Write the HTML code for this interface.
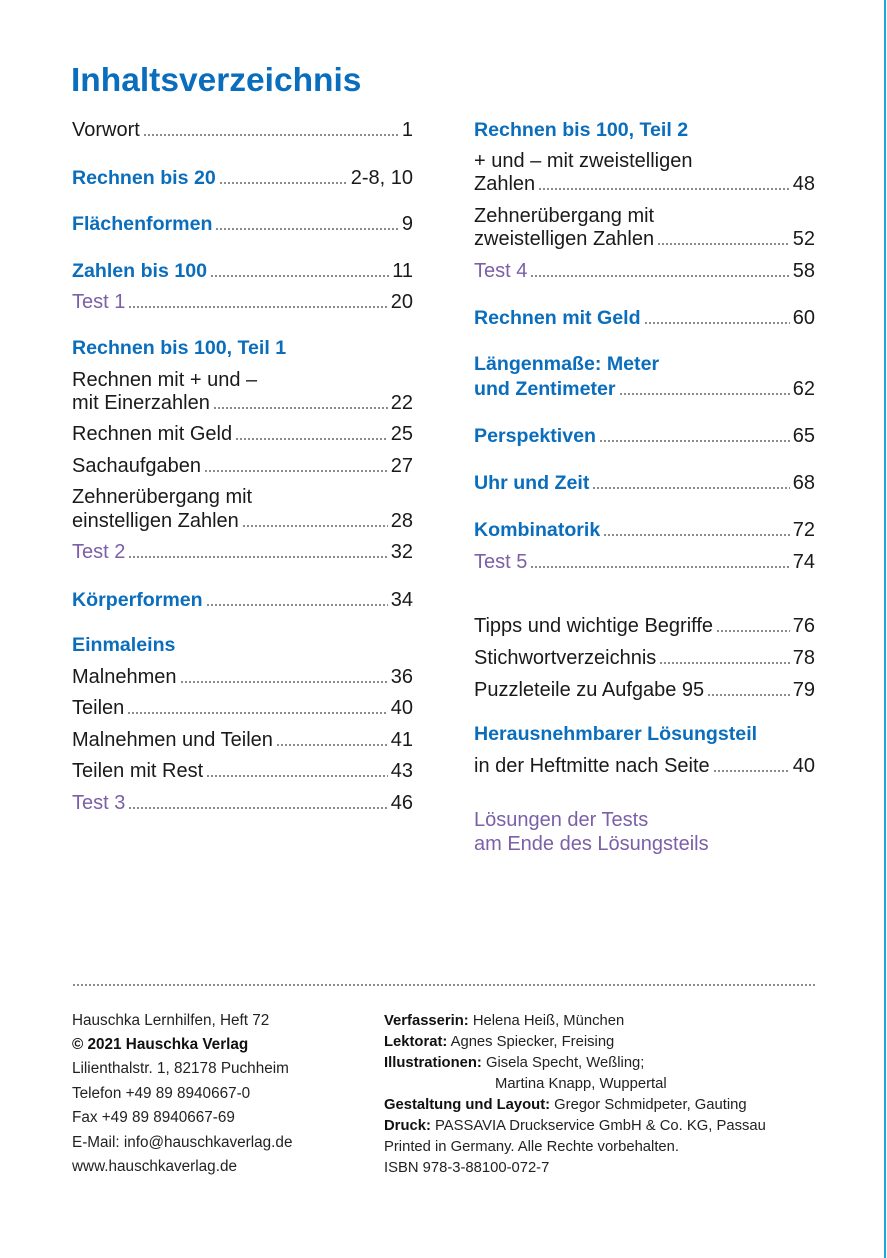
<!DOCTYPE html>
<html><head><meta charset="utf-8"><style>
body{margin:0;width:887px;height:1258px;background:#fff;position:relative;overflow:hidden;font-family:"Liberation Sans",sans-serif;color:#1a1a1a}
.r{position:absolute;display:flex;align-items:flex-end;height:26px;line-height:26px;font-size:20px;white-space:nowrap}
.L{left:72px;width:341px}.R{left:474px;width:341px}
.f{flex:1;margin:0 3px 7px 3px;height:2px;background:radial-gradient(circle,#666 0.8px,transparent 1px) 0 0/4px 2px repeat-x}
.b{color:#0a6ebd;font-weight:bold;font-size:19.6px}
.p{color:#7b5fa8}
.ft{position:absolute;font-size:15.3px;line-height:20px;white-space:nowrap;color:#222}
.fr{font-size:14.8px}
.ft b{color:#111}
</style></head><body>
<div style="position:absolute;right:1px;top:0;width:2px;height:1258px;background:#19a9d8"></div>
<div style="position:absolute;left:71px;top:61px;font-size:33.5px;font-weight:bold;color:#0a6ebd;line-height:40px">Inhaltsverzeichnis</div>

<div class="r L" style="top:117px"><span>Vorwort</span><span class="f"></span><span>1</span></div>
<div class="r L" style="top:165px"><span class="b">Rechnen bis 20</span><span class="f"></span><span>2-8, 10</span></div>
<div class="r L" style="top:211px"><span class="b">Flächenformen</span><span class="f"></span><span>9</span></div>
<div class="r L" style="top:258px"><span class="b">Zahlen bis 100</span><span class="f"></span><span>11</span></div>
<div class="r L" style="top:289px"><span class="p">Test 1</span><span class="f"></span><span>20</span></div>
<div class="r L" style="top:335px"><span class="b">Rechnen bis 100, Teil 1</span></div>
<div class="r L" style="top:367px"><span>Rechnen mit + und –</span></div>
<div class="r L" style="top:390px"><span>mit Einerzahlen</span><span class="f"></span><span>22</span></div>
<div class="r L" style="top:421px"><span>Rechnen mit Geld</span><span class="f"></span><span>25</span></div>
<div class="r L" style="top:453px"><span>Sachaufgaben</span><span class="f"></span><span>27</span></div>
<div class="r L" style="top:484px"><span>Zehnerübergang mit</span></div>
<div class="r L" style="top:508px"><span>einstelligen Zahlen</span><span class="f"></span><span>28</span></div>
<div class="r L" style="top:539px"><span class="p">Test 2</span><span class="f"></span><span>32</span></div>
<div class="r L" style="top:587px"><span class="b">Körperformen</span><span class="f"></span><span>34</span></div>
<div class="r L" style="top:632px"><span class="b">Einmaleins</span></div>
<div class="r L" style="top:664px"><span>Malnehmen</span><span class="f"></span><span>36</span></div>
<div class="r L" style="top:695px"><span>Teilen</span><span class="f"></span><span>40</span></div>
<div class="r L" style="top:727px"><span>Malnehmen und Teilen</span><span class="f"></span><span>41</span></div>
<div class="r L" style="top:758px"><span>Teilen mit Rest</span><span class="f"></span><span>43</span></div>
<div class="r L" style="top:790px"><span class="p">Test 3</span><span class="f"></span><span>46</span></div>

<div class="r R" style="top:117px"><span class="b">Rechnen bis 100, Teil 2</span></div>
<div class="r R" style="top:148px"><span>+ und – mit zweistelligen</span></div>
<div class="r R" style="top:171px"><span>Zahlen</span><span class="f"></span><span>48</span></div>
<div class="r R" style="top:203px"><span>Zehnerübergang mit</span></div>
<div class="r R" style="top:226px"><span>zweistelligen Zahlen</span><span class="f"></span><span>52</span></div>
<div class="r R" style="top:258px"><span class="p">Test 4</span><span class="f"></span><span>58</span></div>
<div class="r R" style="top:305px"><span class="b">Rechnen mit Geld</span><span class="f"></span><span>60</span></div>
<div class="r R" style="top:351px"><span class="b">Längenmaße: Meter</span></div>
<div class="r R" style="top:376px"><span class="b">und Zentimeter</span><span class="f"></span><span>62</span></div>
<div class="r R" style="top:423px"><span class="b">Perspektiven</span><span class="f"></span><span>65</span></div>
<div class="r R" style="top:470px"><span class="b">Uhr und Zeit</span><span class="f"></span><span>68</span></div>
<div class="r R" style="top:517px"><span class="b">Kombinatorik</span><span class="f"></span><span>72</span></div>
<div class="r R" style="top:549px"><span class="p">Test 5</span><span class="f"></span><span>74</span></div>
<div class="r R" style="top:613px"><span>Tipps und wichtige Begriffe</span><span class="f"></span><span>76</span></div>
<div class="r R" style="top:645px"><span>Stichwortverzeichnis</span><span class="f"></span><span>78</span></div>
<div class="r R" style="top:677px"><span>Puzzleteile zu Aufgabe 95</span><span class="f"></span><span>79</span></div>
<div class="r R" style="top:721px"><span class="b">Herausnehmbarer Lösungsteil</span></div>
<div class="r R" style="top:753px"><span>in der Heftmitte nach Seite</span><span class="f"></span><span>40</span></div>
<div class="r R p" style="top:807px"><span>Lösungen der Tests</span></div>
<div class="r R p" style="top:831px"><span>am Ende des Lösungsteils</span></div>

<div style="position:absolute;left:72px;top:984px;width:743px;height:2px;background:radial-gradient(circle,#666 0.8px,transparent 1px) 0 0/4px 2px repeat-x"></div>

<div class="ft" style="left:72px;top:1011px">Hauschka Lernhilfen, Heft 72</div>
<div class="ft" style="left:72px;top:1035px"><b>© 2021 Hauschka Verlag</b></div>
<div class="ft" style="left:72px;top:1059px">Lilienthalstr. 1, 82178 Puchheim</div>
<div class="ft" style="left:72px;top:1084px">Telefon +49 89 8940667-0</div>
<div class="ft" style="left:72px;top:1108px">Fax +49 89 8940667-69</div>
<div class="ft" style="left:72px;top:1133px">E-Mail: info@hauschkaverlag.de</div>
<div class="ft" style="left:72px;top:1157px">www.hauschkaverlag.de</div>

<div class="ft fr" style="left:384px;top:1011px"><b>Verfasserin:</b> Helena Heiß, München</div>
<div class="ft fr" style="left:384px;top:1032px"><b>Lektorat:</b> Agnes Spiecker, Freising</div>
<div class="ft fr" style="left:384px;top:1053px"><b>Illustrationen:</b> Gisela Specht, Weßling;</div>
<div class="ft fr" style="left:495px;top:1074px">Martina Knapp, Wuppertal</div>
<div class="ft fr" style="left:384px;top:1095px"><b>Gestaltung und Layout:</b> Gregor Schmidpeter, Gauting</div>
<div class="ft fr" style="left:384px;top:1116px"><b>Druck:</b> PASSAVIA Druckservice GmbH &amp; Co. KG, Passau</div>
<div class="ft fr" style="left:384px;top:1137px">Printed in Germany. Alle Rechte vorbehalten.</div>
<div class="ft fr" style="left:384px;top:1158px">ISBN 978-3-88100-072-7</div>
</body></html>
